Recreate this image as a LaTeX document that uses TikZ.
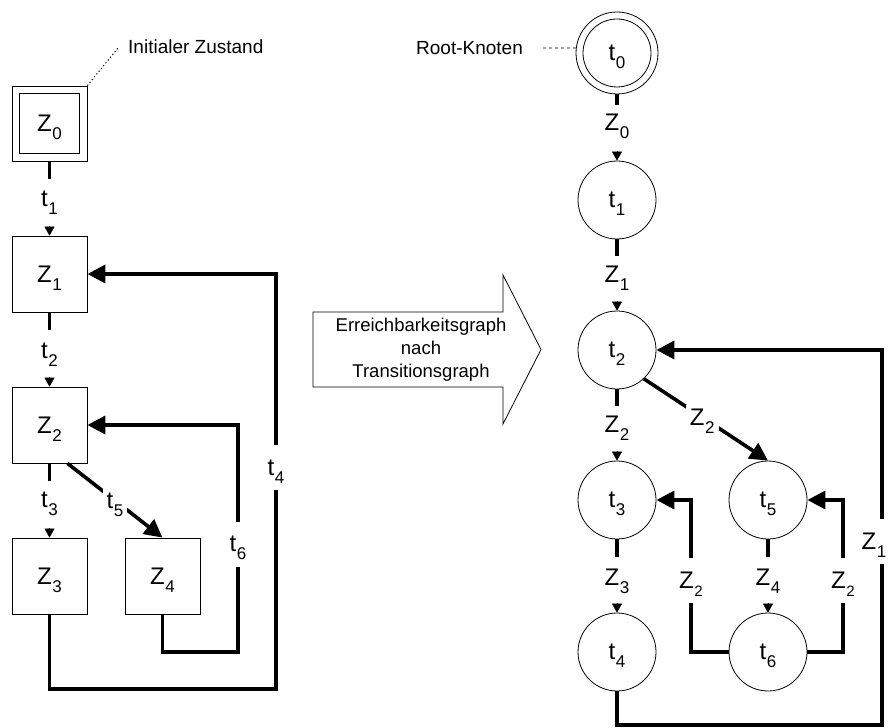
\documentclass[tikz,border=0pt]{standalone}
\usepackage{fontspec}
\setmainfont{Liberation Sans}
\usetikzlibrary{arrows.meta,calc}
\newcommand\lbl[2]{#1\kern0.6pt\smash{\raisebox{-0.33em}{\fontsize{17}{17}\selectfont #2}}}
\newcommand\slbl[2]{#1\kern0.6pt\smash{\raisebox{-0.33em}{\fontsize{15}{15}\selectfont #2}}}
\begin{document}
\begin{tikzpicture}[x=1pt,y=-1pt,
  every node/.style={font=\fontsize{24}{24}\selectfont, inner sep=0pt},
  box/.style={draw, line width=0.8pt, minimum width=75pt, minimum height=76pt},
  circ/.style={draw, circle, line width=0.8pt, minimum size=78pt},
  stub/.style={line width=3.6pt},
  tip/.style={line width=0.4pt, -{Triangle[width=10pt,length=9pt]}},
  big/.style={line width=3.6pt, -{Triangle[width=18pt,length=18pt]}},
  gaplbl/.style={fill=white, inner xsep=3pt, minimum height=45pt},
  dlbl/.style={fill=white, inner sep=4pt},
  note/.style={font=\fontsize{19}{19}\selectfont},
]
\useasboundingbox (0,0) rectangle (890,727);
\clip (0,0) rectangle (890,727);

% ---------- left: reachability graph ----------
\node[draw, line width=0.8pt, minimum size=75pt] (Z0) at (49.5,123.5) {};
\node[draw, line width=0.8pt, minimum size=60pt] (Z0i) at (Z0) {\lbl{Z}{0}};
\node[box] (Z1) at (49.5,274) {\lbl{Z}{1}};
\node[box] (Z2) at (49.5,425) {\lbl{Z}{2}};
\node[box] (Z3) at (49.5,576) {\lbl{Z}{3}};
\node[box] (Z4) at (162.5,576) {\lbl{Z}{4}};

\node[note, anchor=west] (iz) at (128,47) {Initialer Zustand};
\coordinate (izc) at (118,48);
\draw[line width=1pt, dash pattern=on 1.2pt off 2.4pt] (Z0.north east) -- (izc);

% Z0 -> Z1
\draw[stub] (Z0.south) -- ++(0,18);
\node (lt1) at (49.5,199) {\lbl{t}{1}};
\draw[tip] ($(Z1.north)+(0,-10)$) -- (Z1.north);
% Z1 -> Z2
\draw[stub] (Z1.south) -- ++(0,18);
\node (lt2) at (49.5,351) {\lbl{t}{2}};
\draw[tip] ($(Z2.north)+(0,-10)$) -- (Z2.north);
% Z2 -> Z3
\draw[stub] (Z2.south) -- ++(0,18);
\node (lt3) at (49.5,500) {\lbl{t}{3}};
\draw[tip] ($(Z3.north)+(0,-10)$) -- (Z3.north);
% Z2 -> Z4
\draw[big] ($(Z2.south)+(18,0)$) -- node[dlbl, pos=0.5] {\lbl{t}{5}} (Z4.north);
% Z4 -> Z2
\draw[big] (Z4.south) -- (162.5,652) -- (238,652) -- node[gaplbl, pos=0.475] {\lbl{t}{6}} (238,425) -- (Z2.east);
% Z3 -> Z1
\draw[big] (Z3.south) -- (49.5,689) -- (276,689) -- node[gaplbl, pos=0.533] {\lbl{t}{4}} (276,274) -- (Z1.east);

% ---------- middle arrow ----------
\draw[line width=0.8pt] (313,312) -- (503,312) -- (503,275) -- (541,349.5) -- (503,424) -- (503,387) -- (313,387) -- cycle;
\node[note, align=center, font=\fontsize{18.5}{23}\selectfont] (mid) at (421,350) {Erreichbarkeitsgraph\\nach\\Transitionsgraph};

% ---------- right: transition graph ----------
\node[draw, circle, line width=0.8pt, minimum size=82pt] (t0o) at (617,53) {};
\node[draw, circle, line width=0.8pt, minimum size=68pt] (t0) at (t0o) {\lbl{t}{0}};
\node[circ] (t1) at (617,200) {\lbl{t}{1}};
\node[circ] (t2) at (617,350) {\lbl{t}{2}};
\node[circ] (t3) at (617,500) {\lbl{t}{3}};
\node[circ] (t5) at (768,500) {\lbl{t}{5}};
\node[circ] (t4) at (617,652) {\lbl{t}{4}};
\node[circ] (t6) at (768,652) {\lbl{t}{6}};

\node[note] (rk) at (469.5,48) {Root-Knoten};
\coordinate (rkc) at (543,48);
\draw[line width=0.8pt, dash pattern=on 3pt off 3pt] (rkc) -- (t0o.173);

% t0 -> t1
\draw[stub] (t0o.south) -- ++(0,11);
\node (lz0) at (617,122) {\lbl{Z}{0}};
\draw[tip] ($(t1.north)+(0,-10)$) -- (t1.north);
% t1 -> t2
\draw[stub] (t1.south) -- ++(0,17);
\node (lz1) at (617,274) {\lbl{Z}{1}};
\draw[tip] ($(t2.north)+(0,-10)$) -- (t2.north);
% t2 -> t3
\draw[stub] (t2.south) -- ++(0,17);
\node (lz2) at (617,424) {\lbl{Z}{2}};
\draw[tip] ($(t3.north)+(0,-10)$) -- (t3.north);
% t3 -> t4
\draw[stub] (t3.south) -- ++(0,18);
\node (lz3) at (617,577) {\lbl{Z}{3}};
\draw[tip] ($(t4.north)+(0,-10)$) -- (t4.north);
% t5 -> t6
\draw[stub] (t5.south) -- ++(0,18);
\node (lz4) at (768,577) {\lbl{Z}{4}};
\draw[tip] ($(t6.north)+(0,-10)$) -- (t6.north);
% t2 -> t5
\draw[big] (t2.-47) -- node[dlbl, pos=0.47] {\lbl{Z}{2}} (t5.north);
% t6 -> t3
\draw[big] (t6.west) -- (691,652) -- node[gaplbl, pos=0.47] {\slbl{Z}{2}} (691,500) -- (t3.east);
% t6 -> t5
\draw[big] (t6.east) -- (843,652) -- node[gaplbl, pos=0.47] {\slbl{Z}{2}} (843,500) -- (t5.east);
% t4 -> t2
\draw[big] (t4.south) -- (617,725) -- (882,725) -- node[gaplbl, pos=0.49, xshift=-8pt] {\lbl{Z}{1}} (882,350) -- (t2.east);
\end{tikzpicture}
\end{document}
